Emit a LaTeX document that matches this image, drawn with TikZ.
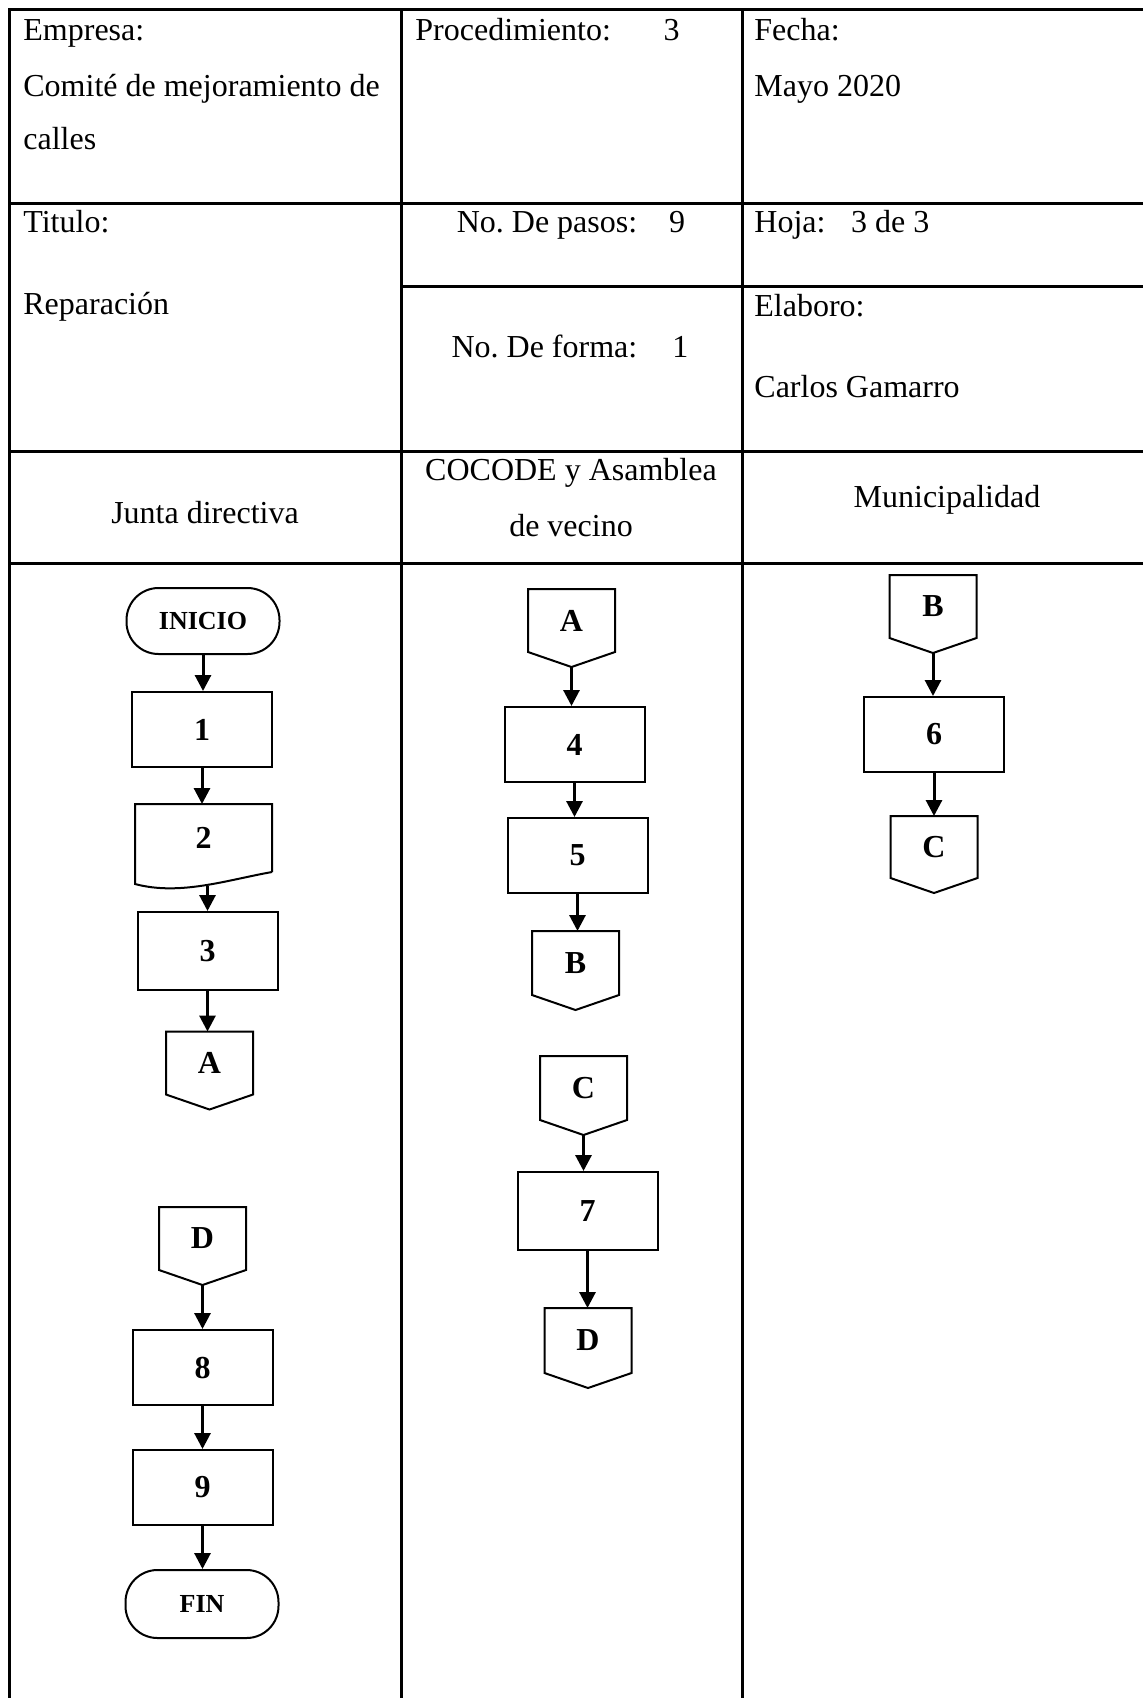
\documentclass[tikz,border=0pt]{standalone}
\usepackage{fontspec}
\setmainfont{Liberation Serif}
\usetikzlibrary{arrows.meta}
\frenchspacing

\begin{document}
\begin{tikzpicture}[x=0.5pt,y=-0.5pt,
    grid/.style={line width=1.5pt},
    txt/.style={anchor=base west,inner sep=0pt,font=\fontsize{16}{19}\selectfont},
    ctxt/.style={txt,anchor=base},
    stepbox/.style={draw,line width=1pt,minimum width=70pt,minimum height=37.5pt,inner sep=0pt,font=\fontsize{16}{19}\selectfont\bfseries},
    term/.style={stepbox,rounded corners=16pt,minimum width=76.5pt,minimum height=33pt,font=\fontsize{13}{15}\selectfont\bfseries},
    offpage/.style={stepbox,draw=none,minimum width=42.5pt,minimum height=30.5pt,
      append after command={\pgfextra{\draw[line width=1pt] (\tikzlastnode.south west) -- (\tikzlastnode.north west) -- (\tikzlastnode.north east) -- (\tikzlastnode.south east) -- ([yshift=-7.5pt]\tikzlastnode.south) -- cycle;}}},
    flow/.style={line width=1.5pt,-{Triangle[length=8pt,width=8pt]}}]
  \useasboundingbox (0,0) rectangle (1143,1698);
  \draw[grid] (1143,9) -- (9,9) -- (9,1698);
  \draw[grid] (401,9) -- (401,1698);
  \draw[grid] (742,9) -- (742,1698);
  \draw[grid] (9,203) -- (1143,203);
  \draw[grid] (401,286) -- (1143,286);
  \draw[grid] (9,451) -- (1143,451);
  \draw[grid] (9,563) -- (1143,563);

  \node[txt] (empresa) at (23,40) {Empresa:};
  \node[txt] (comite) at (23,96) {Comité de mejoramiento de};
  \node[txt] (calles) at (23,149) {calles};
  \node[txt] (titulo) at (23,232) {Titulo:};
  \node[txt] (reparacion) at (23,314) {Reparación};
  \node[txt] (proc) at (415,40) {Procedimiento:\hspace{1.65em}3};
  \node[ctxt] (pasos) at (571,232) {No. De pasos:\hspace{1em}9};
  \node[ctxt] (forma) at (570,357) {No. De forma:\hspace{1.1em}1};
  \node[txt] (fecha) at (754,40) {Fecha:};
  \node[txt] (mayo) at (754,96) {Mayo 2020};
  \node[txt] (hoja) at (754,232) {Hoja:\hspace{0.8em}3 de 3};
  \node[txt] (elaboro) at (754,316) {Elaboro:};
  \node[txt] (carlos) at (754,397) {Carlos Gamarro};
  \node[ctxt] (junta) at (205,523) {Junta directiva};
  \node[ctxt] (cocode) at (571,480) {COCODE y Asamblea};
  \node[ctxt] (vecino) at (571,536) {de vecino};
  \node[ctxt] (muni) at (947,507) {Municipalidad};

  \node[term] (ini) at (203,621) {INICIO};
  \node[stepbox] (s1) at (202,729.5) {1};
  \node[stepbox,draw=none,minimum width=67.5pt,minimum height=33pt] (s2) at (203.5,838) {2};
  \draw[line width=1pt] (s2.south east) -- (s2.north east) -- (s2.north west) -- ([yshift=-6pt]s2.south west) .. controls +(45,12) and +(-45,8) .. coordinate[pos=0.5] (s2w) (s2.south east);
  \node[stepbox,minimum height=39pt] (s3) at (207.5,951) {3};
  \node[offpage] (A1) at (209.5,1063) {A};
  \node[offpage] (D1) at (202.5,1238.5) {D};
  \node[stepbox] (s8) at (202.5,1367.5) {8};
  \node[stepbox] (s9) at (202.5,1487.5) {9};
  \node[term,minimum height=34pt] (fin) at (202,1604) {FIN};

  \node[offpage] (A2) at (571.5,620.5) {A};
  \node[stepbox] (s4) at (574.5,744.5) {4};
  \node[stepbox] (s5) at (577.5,855.5) {5};
  \node[offpage,minimum height=31pt] (B2) at (575.5,963) {B};
  \node[offpage,minimum height=31pt] (C2) at (583.5,1088) {C};
  \node[stepbox,minimum height=39pt] (s7) at (587.5,1211) {7};
  \node[offpage,minimum height=31.5pt] (D2) at (588,1340.5) {D};

  \node[offpage] (B3) at (933,606.5) {B};
  \node[stepbox] (s6) at (934,734.5) {6};
  \node[offpage,minimum height=30pt] (C3) at (934,847) {C};

  \draw[flow] (ini.south) -- (ini.south |- s1.north);
  \draw[flow] (s1.south) -- (s1.south |- s2.north);
  \draw[flow] (s3.north |- s2w) -- (s3.north);
  \draw[flow] (s3.south) -- (s3.south |- A1.north);
  \draw[flow] ([yshift=-7.5pt]D1.south) -- (D1.south |- s8.north);
  \draw[flow] (s8.south) -- (s8.south |- s9.north);
  \draw[flow] (s9.south) -- (s9.south |- fin.north);
  \draw[flow] ([yshift=-7.5pt]A2.south) -- (A2.south |- s4.north);
  \draw[flow] (s4.south) -- (s4.south |- s5.north);
  \draw[flow] (s5.south) -- (s5.south |- B2.north);
  \draw[flow] ([yshift=-7.5pt]C2.south) -- (C2.south |- s7.north);
  \draw[flow] (s7.south) -- (s7.south |- D2.north);
  \draw[flow] ([yshift=-7.5pt]B3.south) -- (B3.south |- s6.north);
  \draw[flow] (s6.south) -- (s6.south |- C3.north);
\end{tikzpicture}
\end{document}
